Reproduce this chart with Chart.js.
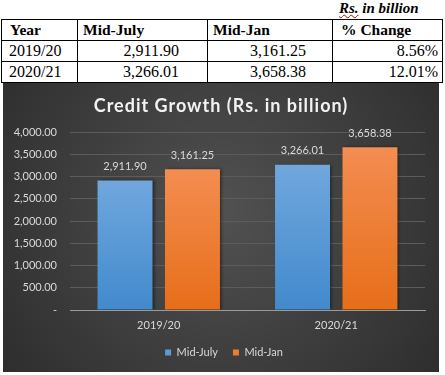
<!DOCTYPE html>
<html>
<head>
<meta charset="utf-8">
<script src="https://cdn.jsdelivr.net/npm/chart.js@4.4.0/dist/chart.umd.min.js"></script>
<style>
  html, body { margin: 0; padding: 0; background: #ffffff; width: 445px; height: 375px; overflow: hidden; }
  #unit { position: absolute; left: 339px; top: 0px; font-family: "Liberation Serif", "Times New Roman", serif; font-weight: bold; font-style: italic; font-size: 15px; color: #000; }
  #unit span { text-decoration: underline wavy #d00000; text-decoration-thickness: 1px; }
  table { position: absolute; left: 1px; top: 19px; border-collapse: collapse; table-layout: fixed; width: 441px; font-family: "Liberation Serif", "Times New Roman", serif; color: #000; }
  td, th { border: 1px solid #000; padding: 0; height: 20px; line-height: 18px; white-space: nowrap; overflow: hidden; }
  th { font-weight: bold; font-size: 15.5px; text-align: left; height: 20px; }
  td { font-size: 16px; }
  th.c0 { padding-left: 8px; } th.c1 { padding-left: 5px; } th.c2 { padding-left: 5px; } th.c3 { padding-left: 8px; }
  td.c0 { padding-left: 7px; text-align: left; }
  td.c1 { text-align: right; padding-right: 28px; }
  td.c2 { text-align: right; padding-right: 26px; }
  td.c3 { text-align: right; padding-right: 4px; }
  #box { position: absolute; left: 3px; top: 83px; width: 436px; height: 289px; }
</style>
</head>
<body>
<div id="unit"><span>Rs.</span> in billion</div>
<table id="tbl">
  <colgroup><col style="width:76px"><col style="width:130px"><col style="width:125px"><col style="width:110px"></colgroup>
  <thead><tr id="hdr"></tr></thead>
  <tbody id="tbody"></tbody>
</table>
<div id="box"><canvas id="c"></canvas></div>
<script>
const categories = ["2019/20", "2020/21"];
const midJuly = [2911.90, 3266.01];
const midJan = [3161.25, 3658.38];
const pctChange = ["8.56%", "12.01%"];
const tableHeaders = ["Year", "Mid-July", "Mid-Jan", "% Change"];
const seriesNames = ["Mid-July", "Mid-Jan"];
const chartTitle = "Credit Growth (Rs. in billion)";
const yMin = 0, yMax = 4000, yStep = 500;

function fmt(v) {
  return v.toLocaleString("en-US", { minimumFractionDigits: 2, maximumFractionDigits: 2 });
}

// build table
const hdr = document.getElementById("hdr");
tableHeaders.forEach((h, i) => { const th = document.createElement("th"); th.className = "c" + i; th.textContent = h; hdr.appendChild(th); });
const tbody = document.getElementById("tbody");
categories.forEach((c, r) => {
  const tr = document.createElement("tr");
  [c, fmt(midJuly[r]), fmt(midJan[r]), pctChange[r]].forEach((v, i) => {
    const td = document.createElement("td"); td.className = "c" + i; td.textContent = v; tr.appendChild(td);
  });
  tbody.appendChild(tr);
});

const FONT = "Lato, 'Open Sans', sans-serif";
const TXT = "#d9d9d9";

const bgPlugin = {
  id: "bg",
  beforeDraw(chart) {
    const { ctx, width, height } = chart;
    ctx.save();
    const g = ctx.createRadialGradient(width * 0.5, height * 0.45, 10, width * 0.5, height * 0.45, Math.max(width, height) * 0.75);
    g.addColorStop(0, "#505050");
    g.addColorStop(1, "#262626");
    ctx.fillStyle = g;
    ctx.fillRect(0, 0, width, height);
    ctx.restore();
  }
};

const titlePlugin = {
  id: "spacedTitle",
  afterDraw(chart) {
    const ctx = chart.ctx;
    ctx.save();
    ctx.font = "bold 18px " + FONT;
    ctx.fillStyle = "#f2f2f2";
    ctx.textAlign = "center";
    ctx.textBaseline = "middle";
    try { ctx.letterSpacing = "1px"; } catch (e) {}
    ctx.fillText(chartTitle, chart.width / 2, 23);
    ctx.restore();
  }
};

const legendShift = {
  id: "legendShift",
  afterLayout(chart) {
    const l = chart.legend;
    if (l) { l.left += 10; l.right += 10; }
  }
};

const shadowPlugin = {
  id: "shadow",
  beforeDatasetsDraw(chart) {
    const ctx = chart.ctx;
    ctx.save();
    ctx.shadowColor = "rgba(0,0,0,0.45)";
    ctx.shadowBlur = 3;
    ctx.shadowOffsetX = 2;
    ctx.shadowOffsetY = 0;
  },
  afterDatasetsDraw(chart) {
    chart.ctx.restore();
  }
};

const labelPlugin = {
  id: "vlabels",
  afterDatasetsDraw(chart) {
    const ctx = chart.ctx;
    ctx.save();
    ctx.font = "11px " + FONT;
    ctx.fillStyle = TXT;
    ctx.textAlign = "center";
    ctx.textBaseline = "middle";
    chart.data.datasets.forEach((ds, di) => {
      const meta = chart.getDatasetMeta(di);
      meta.data.forEach((bar, i) => {
        ctx.fillText(fmt(ds.data[i]), bar.x, bar.y - 14);
      });
    });
    ctx.restore();
  }
};

function grad(top, bottom) {
  return (context) => {
    const chart = context.chart;
    const ys = chart.scales.y;
    if (!ys || context.raw === undefined) return bottom;
    const y0 = ys.getPixelForValue(context.raw);
    const y1 = ys.getPixelForValue(0);
    if (!isFinite(y0) || !isFinite(y1)) return bottom;
    const g = chart.ctx.createLinearGradient(0, y0, 0, y1);
    g.addColorStop(0, top);
    g.addColorStop(1, bottom);
    return g;
  };
}

new Chart(document.getElementById("c"), {
  type: "bar",
  data: {
    labels: categories,
    datasets: [
      { label: seriesNames[0], data: midJuly, backgroundColor: grad("#70a7dd", "#428acd"), borderWidth: 0, categoryPercentage: 0.76, barPercentage: 0.815 },
      { label: seriesNames[1], data: midJan, backgroundColor: grad("#f38d51", "#e76e19"), borderWidth: 0, categoryPercentage: 0.76, barPercentage: 0.815 }
    ]
  },
  options: {
    responsive: true,
    maintainAspectRatio: false,
    animation: false,
    layout: { padding: { left: 0, right: 14, top: 49, bottom: 4 } },
    plugins: {
      title: { display: false },
      legend: {
        display: true,
        position: "bottom",
        labels: {
          color: TXT,
          font: { family: FONT, size: 11 },
          boxWidth: 6, boxHeight: 6,
          padding: 15,
          generateLabels(chart) {
            return chart.data.datasets.map((ds, i) => ({
              text: ds.label,
              fillStyle: i === 0 ? "#5b9bd5" : "#ed7d31",
              strokeStyle: "transparent",
              lineWidth: 0,
              fontColor: TXT,
              datasetIndex: i
            }));
          }
        }
      },
      tooltip: { enabled: false }
    },
    scales: {
      x: {
        afterFit(scale) { scale.height = 22; },
        grid: { display: false, drawTicks: false },
        border: { display: true, color: "#9a9a9a", width: 1 },
        ticks: { color: TXT, font: { family: FONT, size: 11 }, padding: 9 }
      },
      y: {
        min: yMin, max: yMax,
        afterFit(scale) { scale.width = 67; },
        grid: { color: "#5c5c5c", drawTicks: false, lineWidth: 1 },
        border: { display: false },
        ticks: {
          stepSize: yStep,
          color: TXT,
          font: { family: FONT, size: 11 },
          padding: 13,
          callback: (v) => v === 0 ? "-" : fmt(v)
        }
      }
    }
  },
  plugins: [bgPlugin, titlePlugin, legendShift, shadowPlugin, labelPlugin]
});
</script>
</body>
</html>
